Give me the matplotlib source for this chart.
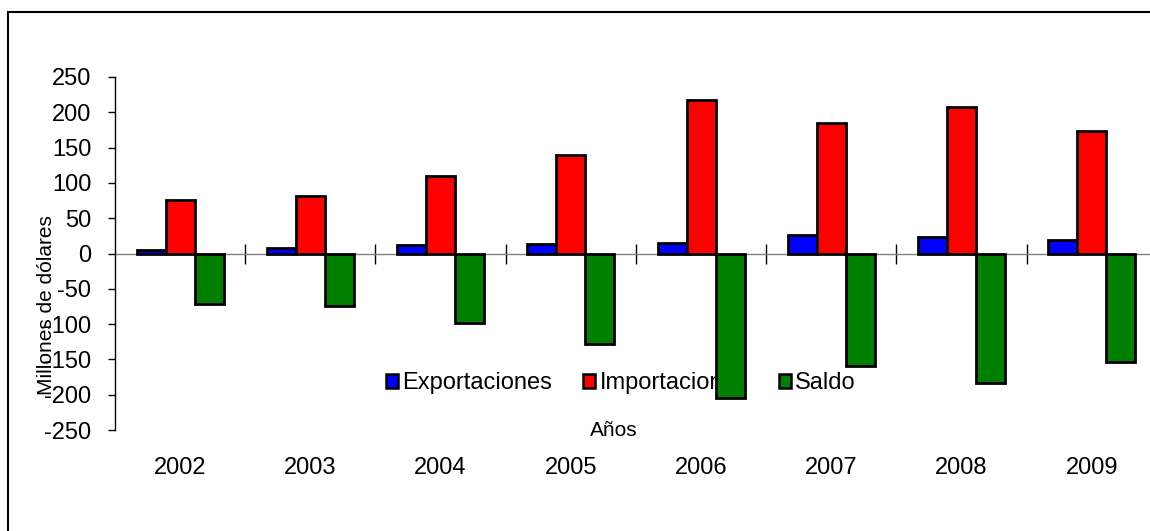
import numpy as np
import matplotlib
matplotlib.use("Agg")
import matplotlib.pyplot as plt
from matplotlib.patches import Rectangle, Patch

plt.rcParams['font.family'] = ['Liberation Sans', 'DejaVu Sans']
plt.rcParams['axes.unicode_minus'] = False

# Values (millones de dólares)
years = ['2002', '2003', '2004', '2005', '2006', '2007', '2008', '2009']
exportaciones = [5, 8, 12, 13, 15, 26, 24, 19]
importaciones = [76, 81, 110, 140, 218, 185, 207, 173]
saldo = [-71, -74, -98, -128, -204, -159, -184, -154]

series = [('Exportaciones', exportaciones, '#0000FF'),
          ('Importaciones', importaciones, '#FF0000'),
          ('Saldo', saldo, '#008000')]

fig = plt.figure(figsize=(11.5, 5.31), dpi=100)
ax = fig.add_axes([0.1, 0.19, 0.906, 0.665])

# outer chart frame (cropped on the right and bottom like the original)
fig.patches.append(Rectangle((0.007, -0.2), 1.2, 1.177, transform=fig.transFigure,
                             fill=False, edgecolor='black', linewidth=1.5))

x = np.arange(len(years))
w = 0.223
for i, (name, vals, col) in enumerate(series):
    ax.bar(x + (i - 1) * w, vals, width=w, color=col, edgecolor='black',
           linewidth=2.0, zorder=3)

ax.set_xlim(-0.5, len(years) - 0.5)
ax.set_ylim(-250, 250)
ax.set_yticks(np.arange(-250, 251, 50))
ax.tick_params(axis='y', direction='out', length=5, width=1, pad=12, labelsize=17)

# category axis drawn through zero with boundary ticks
for s in ['top', 'right']:
    ax.spines[s].set_visible(False)
ax.spines['bottom'].set_position(('data', 0))
ax.spines['bottom'].set_color('#808080')
ax.spines['bottom'].set_linewidth(1)
ax.spines['bottom'].set_zorder(2)
ax.spines['left'].set_linewidth(1)
ax.set_xticks(np.arange(len(years) - 1) + 0.5)
ax.set_xticklabels([])
ax.tick_params(axis='x', direction='inout', length=14, width=1, color='black')

sec = ax.secondary_xaxis(-0.06)
sec.set_xticks(x)
sec.set_xticklabels(years)
sec.tick_params(length=0, pad=4, labelsize=17)
sec.spines['bottom'].set_visible(False)

fig.text(47 / 1150, 1 - 305 / 531, 'Millones de dólares', rotation=90,
         ha='center', va='center', fontsize=15)
fig.text(614 / 1150, 1 - 430 / 531, 'Años', ha='center', va='center', fontsize=15)

handles = [Patch(facecolor=c, edgecolor='black', linewidth=1.8) for _, _, c in series]
leg = ax.legend(handles, [n for n, _, _ in series], loc='center',
                bbox_to_anchor=(621 / 1150, 1 - 383 / 531), bbox_transform=fig.transFigure,
                ncol=3, frameon=False, fontsize=17, handlelength=0.5, handleheight=0.55,
                handletextpad=0.2, columnspacing=1.3, borderpad=0)
leg.set_zorder(1)

fig.savefig('out.png', dpi=100)
